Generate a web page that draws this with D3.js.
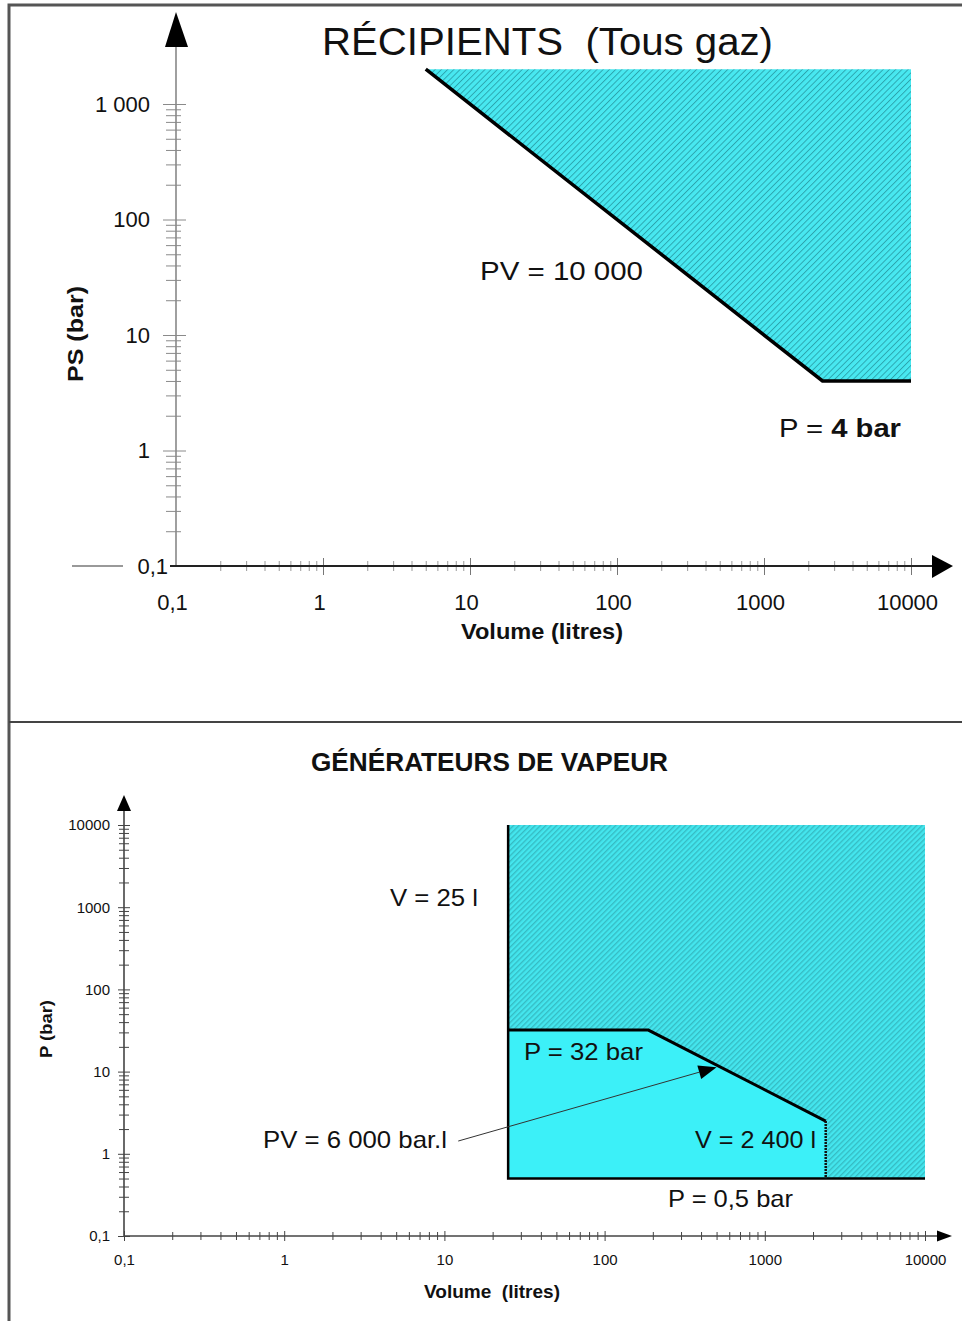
<!DOCTYPE html>
<html>
<head>
<meta charset="utf-8">
<script src="https://cdn.jsdelivr.net/npm/d3@7/dist/d3.min.js"></script>
<style>
body { margin: 0; background: #fff; }
svg text { font-family: "Liberation Sans", Arial, Helvetica, sans-serif; fill: #111; }
</style>
</head>
<body>
<svg id="chart" width="962" height="1321"></svg>
<script>
// ---- data ----
var topXTicks = [0.1, 1, 10, 100, 1000, 10000];
var topXLabels = ["0,1", "1", "10", "100", "1000", "10000"];
var topYTicks = [0.1, 1, 10, 100, 1000];
var topYLabels = ["0,1", "1", "10", "100", "1 000"];

var botXTicks = [0.1, 1, 10, 100, 1000, 10000];
var botXLabels = ["0,1", "1", "10", "100", "1000", "10000"];
var botYTicks = [0.1, 1, 10, 100, 1000, 10000];
var botYLabels = ["0,1", "1", "10", "100", "1000", "10000"];

// récipients : PV = 10 000 and P = 4 bar  [volume, pression]
var recipZone = [[5, 2000], [2500, 4], [10000, 4], [10000, 2000]];
var recipLimit = [[5, 2000], [2500, 4], [10000, 4]];

// générateurs de vapeur
var vapZone = [[25, 0.5], [25, 10000], [10000, 10000], [10000, 0.5]];
var vapInner = [[25, 0.5], [25, 32], [187.5, 32], [2400, 2.5], [2400, 0.5]];
var vapLimit = [[25, 32], [187.5, 32], [2400, 2.5]];
var vapEdge = [[25, 10000], [25, 0.5], [10000, 0.5]];
var vapV2400 = [[2400, 2.5], [2400, 0.5]];
var vapArrow = [[12.2, 1.43], [500, 11.3]];

// ---- helpers ----
function logTicks(lo, hi) {
    var t = [];
    for (var e = Math.round(Math.log10(lo)); e < Math.round(Math.log10(hi)); e++) {
        for (var k = 1; k < 10; k++) t.push(+(k * Math.pow(10, e)).toPrecision(3));
    }
    t.push(hi);
    return t;
}
function majorIndex(list, d) {
    for (var i = 0; i < list.length; i++) if (Math.abs(list[i] - d) < 1e-9) return i;
    return -1;
}

var svg = d3.select("#chart");
var defs = svg.append("defs");

var hatchTop = defs.append("pattern")
    .attr("id", "hatchTop")
    .attr("patternUnits", "userSpaceOnUse")
    .attr("width", 4.4).attr("height", 10)
    .attr("patternTransform", "rotate(45)");
hatchTop.append("rect").attr("width", 4.4).attr("height", 10).attr("fill", "#48e8f0");
hatchTop.append("line").attr("x1", 0.5).attr("y1", 0).attr("x2", 0.5).attr("y2", 10)
    .attr("stroke", "#23949c").attr("stroke-width", 0.8);

var hatchBot = defs.append("pattern")
    .attr("id", "hatchBot")
    .attr("patternUnits", "userSpaceOnUse")
    .attr("width", 3.8).attr("height", 10)
    .attr("patternTransform", "rotate(45)");
hatchBot.append("rect").attr("width", 3.8).attr("height", 10).attr("fill", "#44e6ee");
hatchBot.append("line").attr("x1", 0.7).attr("y1", 0).attr("x2", 0.7).attr("y2", 10)
    .attr("stroke", "#34b6be").attr("stroke-width", 1.2);

// frame
svg.append("path").attr("d", "M9,1321 V5 H962").attr("fill", "none")
    .attr("stroke", "#555").attr("stroke-width", 3);
svg.append("line").attr("x1", 9).attr("x2", 962).attr("y1", 722).attr("y2", 722)
    .attr("stroke", "#444").attr("stroke-width", 2);

// =================== TOP : RÉCIPIENTS ===================
var xT = d3.scaleLog().domain([0.1, 10000]).range([176, 911]);
var yT = d3.scaleLog().domain([0.1, 1000]).range([566, 104]);
var lineT = d3.line().x(function(d) { return xT(d[0]); }).y(function(d) { return yT(d[1]); });
var areaT = d3.line().x(function(d) { return xT(d[0]); }).y(function(d) { return yT(d[1]); }).curve(d3.curveLinearClosed);

svg.append("path").datum(recipZone).attr("d", areaT).attr("fill", "url(#hatchTop)");
svg.append("path").datum(recipLimit).attr("d", lineT)
    .attr("fill", "none").attr("stroke", "#000").attr("stroke-width", 3.5).attr("stroke-linejoin", "miter");

// y axis (gray)
var gyT = svg.append("g").attr("transform", "translate(176,0)")
    .call(d3.axisLeft(yT).tickValues(logTicks(0.1, 1000)).tickSize(0).tickPadding(26)
        .tickFormat(function(d) { var i = majorIndex(topYTicks, d); return i >= 0 ? topYLabels[i] : ""; }));
gyT.select(".domain").remove();
gyT.selectAll(".tick line")
    .attr("x1", function(d) { return majorIndex(topYTicks, d) >= 0 ? -13 : -10; })
    .attr("x2", function(d) { return majorIndex(topYTicks, d) >= 0 ? 10 : 5; })
    .attr("stroke", "#8a8a8a").attr("stroke-width", 1);
gyT.selectAll(".tick text").attr("font-size", 22).attr("fill", "#222")
    .attr("x", function(d) { return d === 0.1 ? -8 : -26; });
gyT.selectAll(".tick").filter(function(d) { return d === 0.1; }).select("line").remove();
svg.append("line").attr("x1", 176).attr("x2", 176).attr("y1", 566).attr("y2", 44)
    .attr("stroke", "#888").attr("stroke-width", 1.6);
svg.append("path").attr("d", "M176,12 L165,47 L188,47 Z").attr("fill", "#000");
svg.append("line").attr("x1", 72).attr("x2", 123).attr("y1", 566).attr("y2", 566)
    .attr("stroke", "#777").attr("stroke-width", 1.3);

// x axis
var gxT = svg.append("g").attr("transform", "translate(0,566)")
    .call(d3.axisBottom(xT).tickValues(logTicks(0.1, 10000)).tickSize(0).tickPadding(28)
        .tickFormat(function(d) { var i = majorIndex(topXTicks, d); return i >= 0 ? topXLabels[i] : ""; }));
gxT.select(".domain").remove();
gxT.selectAll(".tick line")
    .attr("y1", function(d) { return majorIndex(topXTicks, d) >= 0 ? -8 : -5; })
    .attr("y2", function(d) { return majorIndex(topXTicks, d) >= 0 ? 9 : 5; })
    .attr("stroke", function(d) { return majorIndex(topXTicks, d) >= 0 ? "#777" : "#9a9a9a"; })
    .attr("stroke-width", 1);
gxT.selectAll(".tick").filter(function(d) { return d === 0.1; }).select("line").remove();
gxT.selectAll(".tick text").attr("font-size", 22).attr("fill", "#222").attr("x", -4);
svg.append("line").attr("x1", 170).attr("x2", 936).attr("y1", 566).attr("y2", 566)
    .attr("stroke", "#222").attr("stroke-width", 2);
svg.append("path").attr("d", "M953,566 L932,555 L932,578 Z").attr("fill", "#000");

// texts
svg.append("text").attr("x", 322).attr("y", 55).attr("font-size", 38)
    .attr("textLength", 451).attr("lengthAdjust", "spacingAndGlyphs")
    .style("white-space", "pre").text("RÉCIPIENTS  (Tous gaz)");
svg.append("text").attr("x", 480).attr("y", 280).attr("font-size", 26)
    .attr("textLength", 163).attr("lengthAdjust", "spacingAndGlyphs").text("PV = 10 000");
var p4 = svg.append("text").attr("x", 779).attr("y", 437).attr("font-size", 26)
    .attr("textLength", 122).attr("lengthAdjust", "spacingAndGlyphs");
p4.append("tspan").text("P = ");
p4.append("tspan").attr("font-weight", "bold").text("4 bar");
svg.append("text").attr("x", 542).attr("y", 639).attr("text-anchor", "middle")
    .attr("font-size", 22).attr("font-weight", "bold")
    .attr("textLength", 162).attr("lengthAdjust", "spacingAndGlyphs").text("Volume (litres)");
svg.append("text").attr("transform", "translate(83,334) rotate(-90)")
    .attr("text-anchor", "middle").attr("font-size", 22).attr("font-weight", "bold")
    .attr("textLength", 96).attr("lengthAdjust", "spacingAndGlyphs").text("PS (bar)");

// =================== BOTTOM : GÉNÉRATEURS DE VAPEUR ===================
var xB = d3.scaleLog().domain([0.1, 10000]).range([124, 925]);
var yB = d3.scaleLog().domain([0.1, 10000]).range([1236, 825]);
var lineB = d3.line().x(function(d) { return xB(d[0]); }).y(function(d) { return yB(d[1]); });
var areaB = d3.line().x(function(d) { return xB(d[0]); }).y(function(d) { return yB(d[1]); }).curve(d3.curveLinearClosed);

svg.append("path").datum(vapZone).attr("d", areaB).attr("fill", "url(#hatchBot)");
svg.append("path").datum(vapInner).attr("d", areaB).attr("fill", "#3cf0f8");
svg.append("path").datum(vapEdge).attr("d", lineB).attr("fill", "none")
    .attr("stroke", "#000").attr("stroke-width", 2.5);
svg.append("path").datum(vapLimit).attr("d", lineB).attr("fill", "none")
    .attr("stroke", "#000").attr("stroke-width", 3).attr("stroke-linejoin", "miter");
svg.append("path").datum(vapV2400).attr("d", lineB).attr("fill", "none")
    .attr("stroke", "#111").attr("stroke-width", 2.5).attr("stroke-dasharray", "2,1");

// annotation arrow
var a0 = [xB(vapArrow[0][0]), yB(vapArrow[0][1])];
var a1 = [xB(vapArrow[1][0]), yB(vapArrow[1][1])];
var ang = Math.atan2(a1[1] - a0[1], a1[0] - a0[0]);
var hl = 18, hw = 7;
var base = [a1[0] - hl * Math.cos(ang), a1[1] - hl * Math.sin(ang)];
svg.append("line").attr("x1", a0[0]).attr("y1", a0[1]).attr("x2", base[0]).attr("y2", base[1])
    .attr("stroke", "#333").attr("stroke-width", 1);
svg.append("path").attr("d", "M" + a1[0] + "," + a1[1] +
    " L" + (base[0] - hw * Math.sin(ang)) + "," + (base[1] + hw * Math.cos(ang)) +
    " L" + (base[0] + hw * Math.sin(ang)) + "," + (base[1] - hw * Math.cos(ang)) + " Z")
    .attr("fill", "#000");

// axes
var gyB = svg.append("g").attr("transform", "translate(124,0)")
    .call(d3.axisLeft(yB).tickValues(logTicks(0.1, 10000)).tickSize(0).tickPadding(14)
        .tickFormat(function(d) { var i = majorIndex(botYTicks, d); return i >= 0 ? botYLabels[i] : ""; }));
gyB.select(".domain").remove();
gyB.selectAll(".tick line")
    .attr("x1", function(d) { return majorIndex(botYTicks, d) >= 0 ? -6 : -5; })
    .attr("x2", function(d) { return majorIndex(botYTicks, d) >= 0 ? 6 : 5; })
    .attr("stroke", "#444").attr("stroke-width", 1);
gyB.selectAll(".tick text").attr("font-size", 15).attr("fill", "#222");
svg.append("line").attr("x1", 124).attr("x2", 124).attr("y1", 1236).attr("y2", 806)
    .attr("stroke", "#444").attr("stroke-width", 1.6);
svg.append("path").attr("d", "M124,795 L117,811 L131,811 Z").attr("fill", "#000");

var gxB = svg.append("g").attr("transform", "translate(0,1236)")
    .call(d3.axisBottom(xB).tickValues(logTicks(0.1, 10000)).tickSize(0).tickPadding(18)
        .tickFormat(function(d) { var i = majorIndex(botXTicks, d); return i >= 0 ? botXLabels[i] : ""; }));
gxB.select(".domain").remove();
gxB.selectAll(".tick line")
    .attr("y1", function(d) { return majorIndex(botXTicks, d) >= 0 ? -5 : -4; })
    .attr("y2", function(d) { return majorIndex(botXTicks, d) >= 0 ? 5 : 4; })
    .attr("stroke", "#444").attr("stroke-width", 1);
gxB.selectAll(".tick text").attr("font-size", 15).attr("fill", "#222");
svg.append("line").attr("x1", 124).attr("x2", 940).attr("y1", 1236).attr("y2", 1236)
    .attr("stroke", "#444").attr("stroke-width", 1.6);
svg.append("path").attr("d", "M952,1236 L937,1230.5 L937,1241.5 Z").attr("fill", "#000");

// texts
svg.append("text").attr("x", 311).attr("y", 771).attr("font-size", 25).attr("font-weight", "bold")
    .attr("textLength", 357).attr("lengthAdjust", "spacingAndGlyphs").text("GÉNÉRATEURS DE VAPEUR");
svg.append("text").attr("x", 390).attr("y", 906).attr("font-size", 24)
    .attr("textLength", 88).attr("lengthAdjust", "spacingAndGlyphs").text("V = 25 l");
svg.append("text").attr("x", 524).attr("y", 1060).attr("font-size", 24)
    .attr("textLength", 119).attr("lengthAdjust", "spacingAndGlyphs").text("P = 32 bar");
svg.append("text").attr("x", 695).attr("y", 1148).attr("font-size", 24)
    .attr("textLength", 121).attr("lengthAdjust", "spacingAndGlyphs").text("V = 2 400 l");
svg.append("text").attr("x", 668).attr("y", 1207).attr("font-size", 24)
    .attr("textLength", 125).attr("lengthAdjust", "spacingAndGlyphs").text("P = 0,5 bar");
svg.append("text").attr("x", 263).attr("y", 1148).attr("font-size", 24)
    .attr("textLength", 184).attr("lengthAdjust", "spacingAndGlyphs").text("PV = 6 000 bar.l");
svg.append("text").attr("x", 492).attr("y", 1298).attr("text-anchor", "middle")
    .attr("font-size", 18).attr("font-weight", "bold")
    .attr("textLength", 136).attr("lengthAdjust", "spacingAndGlyphs")
    .style("white-space", "pre").text("Volume  (litres)");
svg.append("text").attr("transform", "translate(52,1029) rotate(-90)")
    .attr("text-anchor", "middle").attr("font-size", 16).attr("font-weight", "bold")
    .attr("textLength", 58).attr("lengthAdjust", "spacingAndGlyphs").text("P (bar)");
</script>
</body>
</html>
